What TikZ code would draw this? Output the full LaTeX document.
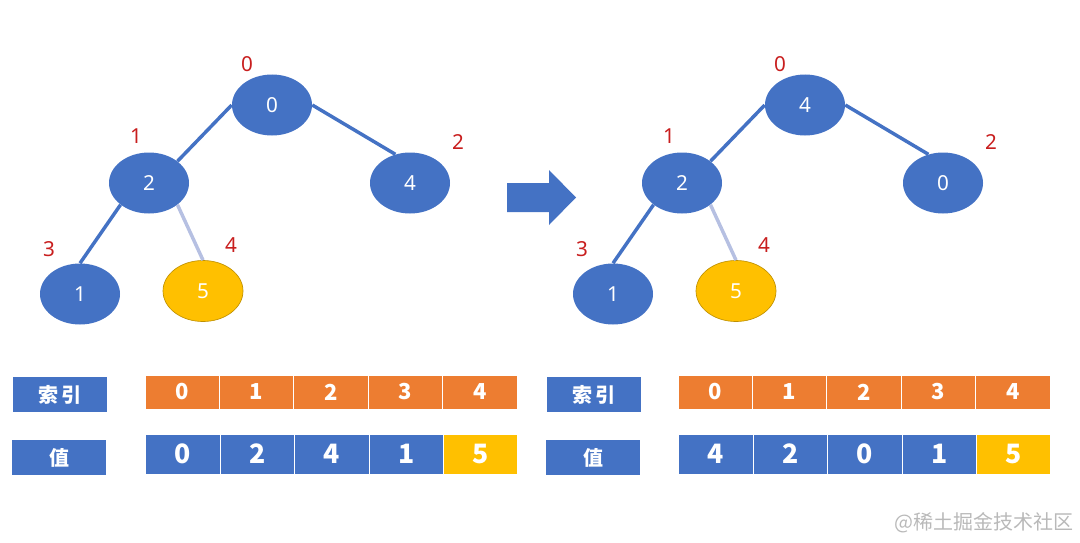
\documentclass[tikz,border=0pt]{standalone}
\usepackage{fontspec}
\setmainfont{Noto Sans}
\newfontfamily\cjk{Noto Sans CJK SC}
\usetikzlibrary{shapes.geometric}

\definecolor{heapblue}{RGB}{68,114,196}
\definecolor{heaporange}{RGB}{237,125,49}
\definecolor{heapgold}{RGB}{255,192,0}
\definecolor{heapred}{RGB}{200,30,30}
\definecolor{heapfade}{RGB}{182,192,226}
\definecolor{markgray}{RGB}{185,185,185}

\begin{document}
\begin{tikzpicture}[x=0.75pt, y=-0.75pt,
            knot/.style={ellipse, fill=heapblue, text=white, minimum width=60pt,
                minimum height=45.75pt, inner sep=0pt, font=\fontsize{15.5}{17}\selectfont},
            hot/.style={knot, fill=heapgold, draw=heapgold!75!black, line width=0.5pt},
            link/.style={heapblue, line width=2.6pt},
            faded/.style={heapfade, line width=2.6pt},
            slotnum/.style={text=heapred, inner sep=0pt, font=\fontsize{15.5}{17}\selectfont},
            tag/.style={fill=heapblue, text=white, minimum width=70.5pt, minimum height=26.25pt,
                inner sep=0pt, font=\cjk\bfseries\fontsize{15}{17}\selectfont},
            cellidx/.style={fill=heaporange, draw=white, line width=0.75pt, text=white,
                minimum width=55.8pt, minimum height=25.5pt, inner sep=0pt,
                font=\cjk\bfseries\fontsize{16.5}{18}\selectfont},
            cellval/.style={cellidx, fill=heapblue, minimum height=30pt,
                font=\cjk\bfseries\fontsize{20}{22}\selectfont},
        ]
        \useasboundingbox (0,0) rectangle (1080,542);
        % before
        \begin{scope}
            \node[knot] (a-n0) at (272,105) {0};
            \node[knot] (a-n1) at (149,183) {2};
            \node[knot] (a-n2) at (410,183) {4};
            \node[knot] (a-n3) at (80,294) {1};
            \node[hot] (a-n4) at (203,291) {5};
            \draw[link] (a-n0.west) -- (a-n1.north east);
            \draw[link] (a-n0.east) -- (a-n2.117);
            \draw[link] (a-n1.south west) -- (a-n3.north);
            \draw[faded] (a-n1.south east) -- (a-n4.north);
            \node[slotnum] (a-i0) at (247,64) {0};
            \node[slotnum] (a-i1) at (136,136) {1};
            \node[slotnum] (a-i2) at (458,142) {2};
            \node[slotnum] (a-i3) at (49,249) {3};
            \node[slotnum] (a-i4) at (231,245) {4};
            \node[tag] (a-tidx) at (60,394.5) {索\,引};
            \node[tag] (a-tval) at (59,457.5) {值};
            \foreach \v [count=\i from 0] in {0,...,4}
                \node[cellidx] (a-c\i) at (182.2+74.4*\i,392) {\v};
            \foreach \v [count=\i from 0] in {0,2,4,1}
                \node[cellval] (a-v\i) at (183+74.4*\i,454) {\v};
            \node[cellval, fill=heapgold] (a-v4) at (183+74.4*4,454) {5};
        \end{scope}
        % arrow
        \fill[heapblue] (507,183) -- (549,183) -- (549,170) -- (576,197.5)
            -- (549,225) -- (549,212) -- (507,212) -- cycle;
        % after
        \begin{scope}[shift={(533,0)}]
            \node[knot] (b-n0) at (272,105) {4};
            \node[knot] (b-n1) at (149,183) {2};
            \node[knot] (b-n2) at (410,183) {0};
            \node[knot] (b-n3) at (80,294) {1};
            \node[hot] (b-n4) at (203,291) {5};
            \draw[link] (b-n0.west) -- (b-n1.north east);
            \draw[link] (b-n0.east) -- (b-n2.117);
            \draw[link] (b-n1.south west) -- (b-n3.north);
            \draw[faded] (b-n1.south east) -- (b-n4.north);
            \node[slotnum] (b-i0) at (247,64) {0};
            \node[slotnum] (b-i1) at (136,136) {1};
            \node[slotnum] (b-i2) at (458,142) {2};
            \node[slotnum] (b-i3) at (49,249) {3};
            \node[slotnum] (b-i4) at (231,245) {4};
            \node[tag] (b-tidx) at (61,394.5) {索\,引};
            \node[tag] (b-tval) at (60,457.5) {值};
            \foreach \v [count=\i from 0] in {0,...,4}
                \node[cellidx] (b-c\i) at (182.2+74.4*\i,392) {\v};
            \foreach \v [count=\i from 0] in {4,2,0,1}
                \node[cellval] (b-v\i) at (183+74.4*\i,454) {\v};
            \node[cellval, fill=heapgold] (b-v4) at (183+74.4*4,454) {5};
        \end{scope}
        \node[anchor=east, text=markgray, inner sep=0pt, font=\cjk\fontsize{15}{16}\selectfont]
            (mark) at (1074,523) {@稀土掘金技术社区};
    \end{tikzpicture}
\end{document}
